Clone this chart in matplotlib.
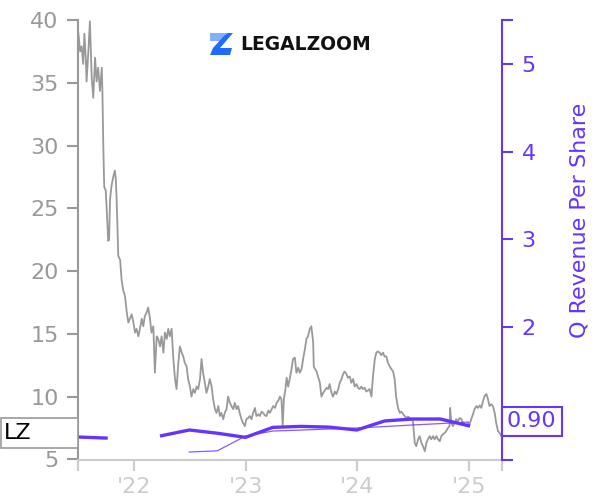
import matplotlib
matplotlib.use("Agg")
import matplotlib.pyplot as plt
from matplotlib.patches import Rectangle, Polygon
from matplotlib.transforms import blended_transform_factory
import numpy as np
import pandas as pd

# daily close of LZ, sampled, as days since the IPO date
start = pd.Timestamp("2021-06-30")
end = pd.Timestamp("2025-04-20")
price_day = [1, 7, 12, 17, 21, 26, 28, 34, 39, 45, 50, 56, 61, 66, 72, 78, 80, 83, 86, 91,
             95, 99, 102, 105, 110, 116, 121, 124, 127, 132, 138, 143, 148, 154, 160, 165, 170, 176, 181, 187,
             192, 198, 203, 209, 214, 219, 225, 230, 236, 241, 247, 252, 258, 263, 269, 274, 280, 285, 291, 296,
             301, 307, 312, 318, 323, 329, 334, 340, 345, 350, 356, 361, 367, 372, 378, 383, 389, 394, 400, 405,
             410, 416, 421, 427, 432, 438, 443, 449, 454, 460, 465, 470, 476, 481, 487, 492, 498, 503, 509, 514,
             520, 525, 530, 536, 541, 547, 552, 558, 563, 569, 574, 580, 585, 591, 596, 602, 607, 613, 618, 624,
             629, 635, 640, 646, 651, 657, 662, 667, 671, 675, 680, 684, 689, 694, 700, 705, 711, 716, 722, 727,
             733, 738, 744, 749, 754, 760, 765, 771, 773, 777, 782, 787, 793, 798, 804, 809, 815, 820, 825, 831,
             836, 842, 847, 853, 858, 864, 869, 874, 880, 885, 891, 896, 902, 907, 913, 918, 923, 929, 934, 940,
             945, 951, 956, 962, 967, 973, 978, 983, 989, 994, 1000, 1005, 1011, 1016, 1022, 1027, 1033, 1038, 1043, 1049,
             1055, 1060, 1066, 1071, 1077, 1082, 1088, 1093, 1098, 1104, 1109, 1115, 1120, 1126, 1131, 1137, 1142, 1147, 1153, 1158,
             1164, 1169, 1175, 1180, 1186, 1191, 1196, 1202, 1207, 1213, 1218, 1220, 1224, 1229, 1235, 1240, 1246, 1251, 1257, 1262,
             1268, 1273, 1279, 1284, 1289, 1295, 1300, 1306, 1311, 1317, 1322, 1328, 1333, 1339, 1344, 1349, 1355, 1360, 1366, 1371,
             1377, 1382, 1388]
price = [39.0, 37.5, 37.9, 36.5, 38.9, 36.7, 35.1, 37.5, 39.9, 35.4, 33.8, 37.0, 35.1, 36.2, 34.35, 36.2, 34.35, 29.9, 26.7, 26.4,
         24.5, 22.4, 22.5, 25.7, 26.8, 27.55, 28.0, 27.3, 25.5, 21.2, 20.9, 19.3, 18.5, 18.0, 16.7, 15.9, 16.2, 16.55, 16.0, 15.1,
         15.4, 14.8, 15.4, 16.2, 15.6, 16.4, 16.7, 17.1, 16.2, 15.1, 15.6, 11.9, 14.8, 14.6, 14.0, 14.8, 13.5, 15.1, 14.6, 15.4,
         14.8, 15.4, 13.2, 11.4, 10.6, 12.7, 14.0, 13.5, 13.2, 12.7, 12.4, 11.4, 10.8, 10.0, 10.6, 10.3, 10.8, 10.6, 11.4, 13.0,
         11.9, 11.1, 10.3, 10.8, 11.4, 10.8, 9.8, 9.0, 8.7, 9.25, 8.45, 8.7, 8.2, 8.7, 9.0, 10.0, 9.5, 9.25, 9.0, 9.5,
         9.0, 9.25, 8.7, 8.2, 7.9, 7.65, 8.2, 8.3, 8.45, 8.2, 8.7, 9.1, 8.45, 8.6, 8.45, 8.8, 8.7, 8.5, 8.45, 8.9,
         8.7, 9.0, 9.25, 9.1, 9.5, 9.7, 10.0, 9.8, 7.65, 9.8, 10.6, 11.5, 10.8, 11.4, 12.2, 13.0, 13.1, 11.9, 12.3, 11.9,
         12.2, 13.0, 13.8, 14.6, 14.8, 15.4, 15.6, 14.3, 12.4, 12.2, 12.0, 11.6, 11.1, 10.0, 10.3, 10.5, 10.7, 10.6, 11.0, 10.3,
         10.0, 10.4, 10.2, 10.6, 11.1, 11.4, 11.8, 12.0, 11.8, 11.5, 11.6, 11.1, 11.4, 10.8, 11.0, 10.7, 10.6, 10.8, 10.6, 10.7,
         10.4, 10.5, 10.6, 10.0, 11.6, 13.0, 13.5, 13.6, 13.5, 13.3, 13.5, 13.2, 13.2, 12.7, 12.4, 12.2, 12.0, 11.4, 10.0, 9.1,
         8.7, 8.8, 8.6, 8.45, 8.3, 8.4, 8.3, 8.2, 8.05, 6.3, 6.05, 6.6, 6.85, 6.3, 6.05, 5.65, 6.3, 6.6, 6.85, 6.6,
         6.85, 6.6, 6.85, 6.6, 6.45, 6.85, 7.0, 7.1, 7.25, 7.5, 7.65, 9.1, 7.9, 7.65, 7.9, 8.2, 8.05, 8.3, 8.2, 7.9,
         7.8, 7.65, 7.9, 7.8, 8.2, 8.6, 9.0, 9.25, 9.1, 9.3, 9.1, 9.65, 10.05, 10.2, 9.8, 9.25, 9.4, 9.25, 8.7, 7.9,
         7.25, 7.1, 6.85]

# quarterly revenue per share
q_dates = ["2021-06-30", "2021-09-30", "2021-12-31", "2022-03-31", "2022-06-30", "2022-09-30",
           "2022-12-31", "2023-03-31", "2023-06-30", "2023-09-30", "2023-12-31", "2024-03-31",
           "2024-06-30", "2024-09-30", "2024-12-31"]
q_rev = [0.747, 0.735, np.nan, 0.762, 0.827, 0.79, 0.743, 0.857, 0.868, 0.86, 0.827, 0.93,
         0.952, 0.952, 0.876]
# thin line: trailing average per quarter
avg_dates = ["2022-06-30", "2022-09-30", "2022-12-31", "2023-03-31", "2023-06-30", "2023-09-30",
             "2023-12-31", "2024-03-31", "2024-06-30", "2024-09-30", "2024-12-31"]
avg_rev = [0.576, 0.59, 0.758, 0.815, 0.826, 0.838, 0.85, 0.866, 0.884, 0.90, 0.918]

ticker = "LZ"
last_label = "0.90"
year_ticks = ["2022-01-01", "2023-01-01", "2024-01-01", "2025-01-01"]
year_labels = ["'22", "'23", "'24", "'25"]

purple = "#6633ff"
grey = "#999999"
light = "#cccccc"

fig = plt.figure(figsize=(6, 5), dpi=100)
ax = fig.add_axes([78 / 600, 40 / 500, 424 / 600, 440 / 500])

dates = start + pd.to_timedelta(price_day, unit="D")
ax.plot(dates, price, color=grey, lw=1.3)
ax.set_xlim(start, end)
ax.set_ylim(4.95, 40)
ax.set_yticks(range(5, 45, 5))
ax.set_xticks([start] + list(pd.to_datetime(year_ticks)) + [end])
ax.set_xticklabels([""] + year_labels + [""])

for s in ["top", "right"]:
    ax.spines[s].set_visible(False)
ax.spines["left"].set_color(grey)
ax.spines["left"].set_linewidth(1.5)
ax.spines["bottom"].set_color(light)
ax.spines["bottom"].set_linewidth(1.5)
ax.tick_params(axis="y", colors=grey, labelsize=16, length=8, width=1.5, pad=6)
ax.tick_params(axis="x", colors=light, labelsize=16, length=8, width=1.5, pad=4)

ax2 = ax.twinx()
ax2.plot(pd.to_datetime(q_dates), q_rev, color=purple, lw=2.4)
ax2.plot(pd.to_datetime(avg_dates), avg_rev, color=purple, lw=0.9, alpha=0.8)
ax2.set_ylim(0.485, 5.5)
ax2.set_yticks([0.485, 1, 2, 3, 4, 5, 5.5])
ax2.set_yticklabels(["", "", "2", "3", "4", "5", ""])
for s in ["top", "left", "bottom"]:
    ax2.spines[s].set_visible(False)
ax2.spines["right"].set_color(purple)
ax2.spines["right"].set_linewidth(1.5)
ax2.tick_params(axis="y", colors=purple, labelsize=16, length=8, width=1.5, pad=6)
fig.text(580 / 600, 0.56, "Q Revenue Per Share", rotation=90, color=purple,
         fontsize=16, ha="center", va="center")

# last value boxes
ax2.text(1.0 + 5 / 424, 0.925, last_label, transform=blended_transform_factory(ax2.transAxes, ax2.transData),
         ha="left", va="center", fontsize=16, color=purple, clip_on=False,
         bbox=dict(boxstyle="square,pad=0.22", fc="white", ec=purple, lw=1.5))

trans = blended_transform_factory(fig.transFigure, ax.transData)
last = price[-1] + 0.25
fig.add_artist(Rectangle((0.001, last - 1.2), 77 / 600, 2.4, transform=trans,
                         fc="white", ec=grey, lw=1.2))
fig.text(4 / 600, last, ticker, transform=trans, ha="left", va="center", fontsize=16, color="black")

# logo
def px(pts):
    return [(x / 600, 1 - y / 500) for x, y in pts]

fig.add_artist(Polygon(px([(210, 33), (228, 33), (225, 41), (210, 41)]),
                       closed=True, fc="#80b0ff", ec="none", transform=fig.transFigure))
fig.add_artist(Polygon(px([(228, 33), (233, 33), (220, 48), (232, 48), (230, 55), (210, 55), (213, 48), (224, 36)]),
                       closed=True, fc="#1f6bff", ec="none", transform=fig.transFigure))
fig.text(306 / 600, 1 - 44 / 500, "LEGALZOOM", fontsize=13.5, fontweight="bold",
         ha="center", va="center", color="#111111")

fig.savefig("out.png", dpi=100)
